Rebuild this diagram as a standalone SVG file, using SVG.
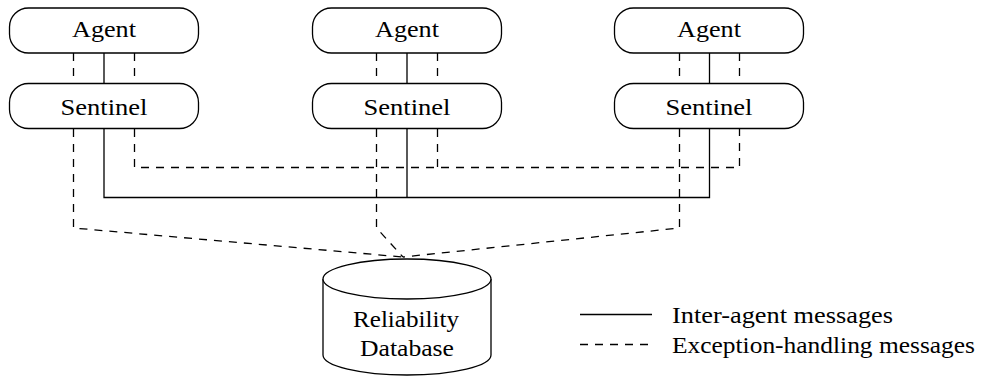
<svg xmlns="http://www.w3.org/2000/svg" width="989" height="376" viewBox="0 0 989 376">
<style>
.box{fill:#fff;stroke:#000;stroke-width:1.3}
.t{font-family:"Liberation Serif","Times New Roman",serif;font-size:23px;fill:#000}
.solid{fill:none;stroke:#000;stroke-width:1.3}
.dash{fill:none;stroke:#000;stroke-width:1.3;stroke-dasharray:8 7}
</style>
<rect width="989" height="376" fill="#fff"/>
<g id="connectors">
<!-- agent-sentinel links -->
<path class="dash" d="M73.5 53V83M134.5 53V83M376.5 53V83M437.5 53V83M679.5 53V83M739.5 53V83"/>
<path class="solid" d="M104 53V83M407 53V83M709.5 53V83"/>
<!-- inter-agent bus -->
<path class="solid" d="M104 129V197.5H709.5V129M407 129V197.5"/>
<!-- exception bus -->
<path class="dash" d="M134.5 129V167.5H739.5V129M437.5 129V167.5"/>
<!-- to database -->
<path class="dash" d="M73.5 129V228L403 257"/>
<path class="dash" d="M376.5 129V228L403 257"/>
<path class="dash" d="M679.5 129V228L403 257"/>
</g>
<g id="agent1"><rect class="box" x="9.5" y="8" width="189" height="45" rx="19"/><text class="t" x="104" y="37" text-anchor="middle" textLength="64" lengthAdjust="spacingAndGlyphs">Agent</text></g>
<g id="agent2"><rect class="box" x="312.5" y="8" width="189" height="45" rx="19"/><text class="t" x="407" y="37" text-anchor="middle" textLength="64" lengthAdjust="spacingAndGlyphs">Agent</text></g>
<g id="agent3"><rect class="box" x="614.5" y="8" width="189" height="45" rx="19"/><text class="t" x="709" y="37" text-anchor="middle" textLength="64" lengthAdjust="spacingAndGlyphs">Agent</text></g>
<g id="sentinel1"><rect class="box" x="9.5" y="83.5" width="189" height="45" rx="19"/><text class="t" x="104" y="115" text-anchor="middle" textLength="87" lengthAdjust="spacingAndGlyphs">Sentinel</text></g>
<g id="sentinel2"><rect class="box" x="312.5" y="83.5" width="189" height="45" rx="19"/><text class="t" x="407" y="115" text-anchor="middle" textLength="87" lengthAdjust="spacingAndGlyphs">Sentinel</text></g>
<g id="sentinel3"><rect class="box" x="614.5" y="83.5" width="189" height="45" rx="19"/><text class="t" x="709" y="115" text-anchor="middle" textLength="87" lengthAdjust="spacingAndGlyphs">Sentinel</text></g>
<g id="database">
<path class="box" d="M323 279V355A84 20 0 0 0 491 355V279"/>
<ellipse class="box" cx="407" cy="279" rx="84" ry="20"/>
<text class="t" x="406" y="327" text-anchor="middle" textLength="106" lengthAdjust="spacingAndGlyphs">Reliability</text>
<text class="t" x="407" y="356" text-anchor="middle" textLength="94" lengthAdjust="spacingAndGlyphs">Database</text>
</g>
<g id="legend">
<line class="solid" x1="580" y1="314.5" x2="652" y2="314.5"/>
<line class="dash" x1="580" y1="344.5" x2="652" y2="344.5"/>
<text class="t" x="672" y="323" textLength="221" lengthAdjust="spacingAndGlyphs">Inter-agent messages</text>
<text class="t" x="672" y="353" textLength="303" lengthAdjust="spacingAndGlyphs">Exception-handling messages</text>
</g>
</svg>
